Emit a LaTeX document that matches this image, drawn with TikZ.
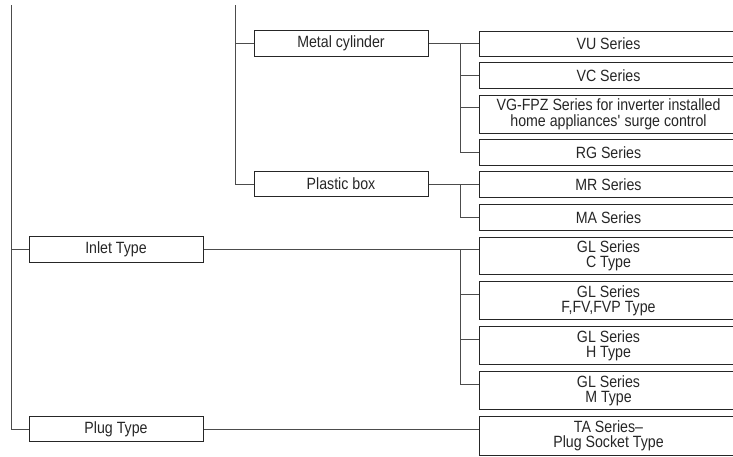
\documentclass[tikz,border=0pt]{standalone}
\usepackage{fontspec}
\setmainfont{Liberation Sans}[FakeStretch=0.87]
\usetikzlibrary{calc}
\begin{document}
\begin{tikzpicture}[x=1pt,y=-1pt,
  every node/.style={font=\fontsize{16.3}{15.2}\selectfont, text=black!85, inner sep=0pt, align=center},
  leftbox/.style={draw=black!85, line width=1pt, minimum width=174pt, minimum height=25.5pt},
  rightbox/.style={draw=black!85, line width=1pt, anchor=north west, minimum width=258pt},
  conn/.style={draw=black!70, line width=1pt}]
\useasboundingbox (0,0) rectangle (733,456);
\begin{scope}
\clip (0,0) rectangle (733,456);
% right column boxes
\node[rightbox, minimum height=25.5pt] (vu) at (479,30.5) {VU Series};
\node[rightbox, minimum height=26pt] (vc) at (479,62) {VC Series};
\node[rightbox, minimum height=38.5pt] (vg) at (479,94.5) {VG-FPZ Series for inverter installed\\home appliances\textquotesingle\ surge control};
\node[rightbox, minimum height=26pt] (rg) at (479,139) {RG Series};
\node[rightbox, minimum height=26pt] (mr) at (479,171) {MR Series};
\node[rightbox, minimum height=26pt] (ma) at (479,204) {MA Series};
\node[rightbox, minimum height=37.5pt] (glc) at (479,236.5) {GL Series\\C Type};
\node[rightbox, minimum height=38pt] (glf) at (479,281) {GL Series\\F,FV,FVP Type};
\node[rightbox, minimum height=38pt] (glh) at (479,326) {GL Series\\H Type};
\node[rightbox, minimum height=38pt] (glm) at (479,371) {GL Series\\M Type};
\node[rightbox, minimum height=39pt] (ta) at (479,416) {TA Series--\\Plug Socket Type};
\end{scope}
% middle boxes
\node[leftbox] (mc) at (341,43.5) {Metal cylinder};
\node[leftbox] (pb) at (341,184) {Plastic box};
% left boxes
\node[leftbox] (inlet) at (116,249.5) {Inlet Type};
\node[leftbox] (plug) at (116,429) {Plug Type};
% trunks
\coordinate (t1) at (11,5);
\coordinate (t2) at (235,5);
\path[conn] (t1) |- (plug.west);
\path[conn] (inlet.west) -- (inlet.west -| t1);
\path[conn] (t2) |- (pb.west);
\path[conn] (mc.west) -- (mc.west -| t2);
% metal cylinder branch
\coordinate (j1) at (460,43.5);
\path[conn] (mc.east) -- ($(vu.north west)+(0,13)$);
\path[conn] (j1) |- ($(vc.north west)+(0,13)$);
\path[conn] (j1) |- ($(vg.north west)+(0,13)$);
\path[conn] (j1) |- ($(rg.north west)+(0,13)$);
% plastic box branch
\coordinate (j2) at (460,184);
\path[conn] (pb.east) -- ($(mr.north west)+(0,13)$);
\path[conn] (j2) |- ($(ma.north west)+(0,13)$);
% inlet branch
\coordinate (j3) at (460,249.5);
\path[conn] (inlet.east) -- ($(glc.north west)+(0,13)$);
\path[conn] (j3) |- ($(glf.north west)+(0,13)$);
\path[conn] (j3) |- ($(glh.north west)+(0,13)$);
\path[conn] (j3) |- ($(glm.north west)+(0,13)$);
% plug branch
\path[conn] (plug.east) -- ($(ta.north west)+(0,13)$);
\end{tikzpicture}
\end{document}
